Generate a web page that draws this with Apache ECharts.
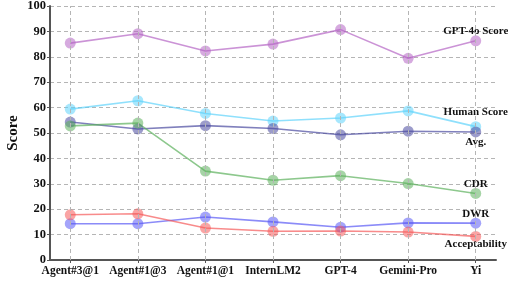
<!DOCTYPE html>
<html>
<head>
<meta charset="utf-8">
<script src="https://cdn.jsdelivr.net/npm/echarts@6/dist/echarts.min.js"></script>
<style>
  html, body { margin: 0; padding: 0; background: #fff; }
  #chart { width: 508px; height: 284px; }
</style>
</head>
<body>
<div id="chart"></div>
<script>
// categories (models)
var categories = ['Agent#3@1', 'Agent#1@3', 'Agent#1@1', 'InternLM2', 'GPT-4', 'Gemini-Pro', 'Yi'];

// scores
var gpt4oScore    = [85.4, 89.1, 82.3, 85.0, 90.7, 79.4, 86.3];
var humanScore    = [59.4, 62.7, 57.7, 54.7, 55.9, 58.7, 52.5];
var avgScore      = [54.3, 51.6, 52.9, 51.8, 49.3, 50.7, 50.4];
var cdrScore      = [52.8, 53.9, 35.0, 31.4, 33.2, 30.1, 26.2];
var dwrScore      = [14.3, 14.3, 16.9, 15.0, 12.9, 14.6, 14.5];
var acceptScore   = [17.8, 18.2, 12.6, 11.3, 11.4, 11.0, 9.3];

var yTicks = [0, 10, 20, 30, 40, 50, 60, 70, 80, 90, 100];

var FONT = 'Liberation Serif';
var catIdx = categories.map(function (c, i) { return i; });

function rgba(rgb, a) { return 'rgba(' + rgb + ',' + a + ')'; }

function makeSeries(name, values, rgb, labelOffset) {
  var data = values.map(function (v, i) {
    var item = { value: [i, v] };
    if (i === values.length - 1) {
      item.label = {
        show: true,
        formatter: name,
        position: 'inside',
        offset: labelOffset,
        color: '#111',
        fontFamily: FONT,
        fontWeight: 'bold',
        fontSize: 11
      };
    }
    return item;
  });
  return {
    name: name,
    type: 'line',
    data: data,
    symbol: 'circle',
    symbolSize: 11,
    itemStyle: { color: rgba(rgb, 0.55) },
    lineStyle: { color: rgba(rgb, 0.7), width: 1.6 },
    emphasis: { disabled: true },
    z: 3
  };
}

var chart = echarts.init(document.getElementById('chart'));

var series = [
  makeSeries('GPT-4o Score', gpt4oScore, '181,101,196', [0, -10]),
  makeSeries('Human Score', humanScore, '95,211,251', [0, -14]),
  makeSeries('Avg.', avgScore, '74,74,160', [0, 10]),
  makeSeries('CDR', cdrScore, '92,176,92', [0, -9]),
  makeSeries('DWR', dwrScore, '90,90,245', [0, -9]),
  makeSeries('Acceptability', acceptScore, '245,90,90', [0, 8])
];

// vertical dashed grid lines at each category
series[0].markLine = {
  silent: true,
  symbol: 'none',
  label: { show: false },
  lineStyle: { color: '#b5b5b5', type: [4, 3], width: 1, opacity: 1 },
  data: catIdx.map(function (i) { return { xAxis: i }; })
};

var option = {
  animation: false,
  grid: { left: 50, right: 12, top: 6, bottom: 24, outerBoundsMode: 'none' },
  xAxis: {
    type: 'value',
    min: -0.3,
    max: 6.3,
    axisLine: { show: true, onZero: false, lineStyle: { color: '#555', width: 2 } },
    axisTick: { show: true, length: 3, customValues: catIdx, lineStyle: { color: '#555' } },
    axisLabel: {
      customValues: catIdx,
      formatter: function (v) { return categories[Math.round(v)]; },
      color: '#111',
      fontFamily: FONT,
      fontWeight: 'bold',
      fontSize: 11.5,
      margin: 5
    },
    splitLine: { show: false }
  },
  yAxis: {
    type: 'value',
    min: 0,
    max: 100,
    interval: 10,
    name: 'Score',
    nameLocation: 'middle',
    nameGap: 29,
    nameMoveOverlap: false,
    nameTextStyle: { color: '#111', fontFamily: FONT, fontWeight: 'bold', fontSize: 15 },
    axisLine: { show: true, onZero: false, lineStyle: { color: '#555', width: 2 } },
    axisTick: { show: true, length: 3, lineStyle: { color: '#555' } },
    axisLabel: {
      color: '#111',
      fontFamily: FONT,
      fontWeight: 'bold',
      fontSize: 12.5,
      margin: 4,
      customValues: yTicks
    },
    splitLine: { show: true, lineStyle: { color: '#b5b5b5', type: [4, 3], width: 1 } }
  },
  series: series
};

chart.setOption(option);
</script>
</body>
</html>
